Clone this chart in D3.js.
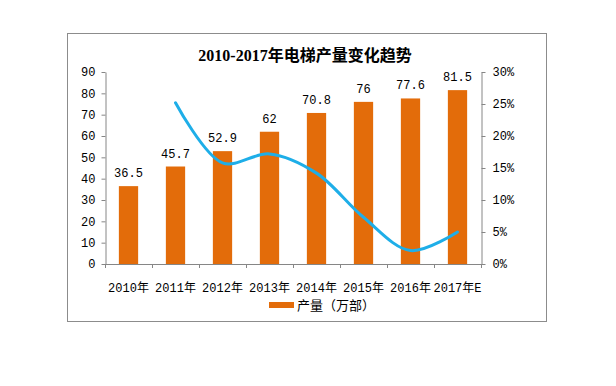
<!DOCTYPE html>
<html>
<head>
<meta charset="utf-8">
<script src="https://cdn.jsdelivr.net/npm/d3@7"></script>
<style>
  body { margin: 0; background: #fff; }
  text { font-family: "Liberation Mono", "Noto Sans CJK SC", monospace; }
</style>
</head>
<body>
<div id="chart"></div>
<script>
// data
var years = ["2010年", "2011年", "2012年", "2013年", "2014年", "2015年", "2016年", "2017年E"];
var output = [36.5, 45.7, 52.9, 62, 70.8, 76, 77.6, 81.5];
var growth = [null, 25.2, 15.8, 17.2, 14.2, 7.3, 2.1, 5.0];
var leftTicks = [0, 10, 20, 30, 40, 50, 60, 70, 80, 90];
var rightTicks = [0, 5, 10, 15, 20, 25, 30];

var width = 616, height = 386;
var svg = d3.select("#chart").append("svg")
    .attr("width", width)
    .attr("height", height);

// outer frame
svg.append("rect")
    .attr("x", 67.5).attr("y", 33.5)
    .attr("width", 479).attr("height", 288)
    .attr("fill", "#fff")
    .attr("stroke", "#8c8c8c");

var plotLeft = 105, plotRight = 481, plotTop = 72, plotBottom = 264;

var x = d3.scaleBand().domain(years).range([plotLeft, plotRight]).paddingInner(0.59).paddingOuter(0.295);
var xc = d3.scalePoint().domain(years).range([plotLeft, plotRight]).padding(0.5);
var y = d3.scaleLinear().domain([0, 90]).range([plotBottom, plotTop]);
var y2 = d3.scaleLinear().domain([0, 30]).range([plotBottom, plotTop]);

var axisColor = "#868686";

// title
svg.append("text")
    .attr("x", 305).attr("y", 61)
    .attr("text-anchor", "middle")
    .attr("font-size", 16)
    .attr("font-weight", "bold")
    .style("font-family", "'Liberation Serif', 'Noto Sans CJK SC', serif")
    .text("2010-2017年电梯产量变化趋势");

// left axis
var gl = svg.append("g").attr("transform", "translate(" + (plotLeft + 0.5) + ",0)")
    .call(d3.axisLeft(y).tickValues(leftTicks).tickSize(4).tickSizeOuter(0).tickPadding(6));
// right axis
var gr = svg.append("g").attr("transform", "translate(" + (plotRight + 0.5) + ",0)")
    .call(d3.axisRight(y2).tickValues(rightTicks).tickSize(4).tickSizeOuter(0).tickPadding(7)
      .tickFormat(function(d) { return d + "%"; }));
// bottom axis with ticks at category boundaries
var bounds = d3.range(years.length + 1).map(function(i) { return plotLeft + i * (plotRight - plotLeft) / years.length; });
var gb = svg.append("g");
gb.append("line")
    .attr("x1", plotLeft).attr("x2", plotRight + 4)
    .attr("y1", plotBottom + 0.5).attr("y2", plotBottom + 0.5)
    .attr("stroke", axisColor);
gb.selectAll("line.tk").data(bounds).enter().append("line")
    .attr("class", "tk")
    .attr("x1", function(d) { return Math.round(d) + 0.5; })
    .attr("x2", function(d) { return Math.round(d) + 0.5; })
    .attr("y1", plotBottom).attr("y2", plotBottom + 4)
    .attr("stroke", axisColor);
gb.selectAll("text").data(years).enter().append("text")
    .attr("x", function(d) { return xc(d); })
    .attr("y", 292)
    .attr("text-anchor", "middle")
    .attr("font-size", 12)
    .attr("fill", "#000")
    .text(function(d) { return d; });

[gl, gr].forEach(function(g) {
  g.select(".domain").attr("stroke", axisColor);
  g.selectAll(".tick line").attr("stroke", axisColor);
  g.selectAll(".tick text").attr("font-size", 12).attr("fill", "#000")
    .style("font-family", "'Liberation Mono', monospace");
});

// bars
svg.selectAll("rect.bar").data(output).enter().append("rect")
    .attr("class", "bar")
    .attr("x", function(d, i) { return x(years[i]); })
    .attr("width", x.bandwidth())
    .attr("y", function(d) { return y(d); })
    .attr("height", function(d) { return plotBottom - y(d); })
    .attr("fill", "#E36C0A");

svg.selectAll("text.lbl").data(output).enter().append("text")
    .attr("class", "lbl")
    .attr("x", function(d, i) { return xc(years[i]); })
    .attr("y", function(d) { return y(d) - 9; })
    .attr("text-anchor", "middle")
    .attr("font-size", 12)
    .text(function(d) { return d; });

// growth line
var line = d3.line()
    .defined(function(d) { return d != null; })
    .x(function(d, i) { return xc(years[i]); })
    .y(function(d) { return y2(d); })
    .curve(d3.curveCatmullRom.alpha(0.5));

svg.append("path")
    .datum(growth)
    .attr("d", line)
    .attr("fill", "none")
    .attr("stroke", "#1EAEE8")
    .attr("stroke-width", 3)
    .attr("stroke-linecap", "round");

// legend
svg.append("rect")
    .attr("x", 269).attr("y", 302)
    .attr("width", 25).attr("height", 6)
    .attr("fill", "#E36C0A");
svg.append("text")
    .attr("x", 297).attr("y", 310)
    .attr("font-size", 13)
    .style("font-family", "'Noto Sans CJK SC', sans-serif")
    .text("产量（万部）");
</script>
</body>
</html>
